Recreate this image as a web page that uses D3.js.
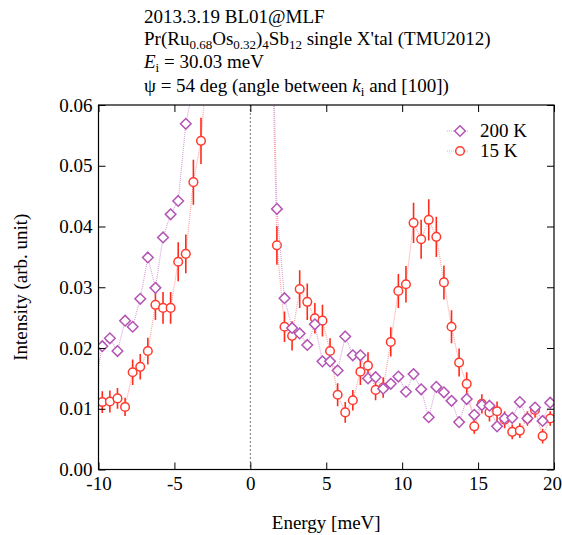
<!DOCTYPE html>
<html>
<head>
<meta charset="utf-8">
<script src="https://cdn.jsdelivr.net/npm/d3@7"></script>
<style>
  html, body { margin: 0; padding: 0; background: #fff; }
  svg { display: block; }
  text { font-family: "Liberation Serif", "Times New Roman", serif; fill: #000; }
</style>
</head>
<body>
<svg id="chart" width="562" height="535"></svg>
<script>
// ---- data ----
const xTicks = [-10, -5, 0, 5, 10, 15, 20];
const yTicks = [0, 0.01, 0.02, 0.03, 0.04, 0.05, 0.06];

const energy200 = [-10.25, -9.75, -9.25, -8.75, -8.25, -7.75, -7.25, -6.75, -6.25, -5.75, -5.25, -4.75, -4.25, -3.75,
  1.25, 1.75, 2.25, 2.75, 3.25, 3.75, 4.25, 4.75, 5.25, 5.75, 6.25, 6.75, 7.25, 7.75, 8.25, 8.75, 9.25, 9.75,
  10.25, 10.75, 11.25, 11.75, 12.25, 12.75, 13.25, 13.75, 14.25, 14.75, 15.25, 15.75, 16.25, 16.75, 17.25,
  17.75, 18.25, 18.75, 19.25, 19.75];
const int200 = [0.0135, 0.0203, 0.0216, 0.0195, 0.0245, 0.0235, 0.0281, 0.0349, 0.0299, 0.0382, 0.0420, 0.0442, 0.0569, 0.0630,
  0.0940, 0.0429, 0.0282, 0.0233, 0.0224, 0.0205, 0.0239, 0.0178, 0.0178, 0.0163, 0.0219, 0.0188, 0.0188, 0.0150,
  0.0152, 0.0133, 0.0141, 0.0153, 0.0128, 0.0157, 0.0132, 0.0086, 0.0136, 0.0127, 0.0113, 0.0078, 0.0116, 0.0090,
  0.0106, 0.0105, 0.0071, 0.0084, 0.0085, 0.0111, 0.0084, 0.0102, 0.0080, 0.0110];

const energy15 = [-9.75, -9.25, -8.75, -8.25, -7.75, -7.25, -6.75, -6.25, -5.75, -5.25, -4.75, -4.25, -3.75, -3.25, -2.75,
  1.25, 1.75, 2.25, 2.75, 3.25, 3.75, 4.25, 4.75, 5.25, 5.75, 6.25, 6.75, 7.25, 7.75, 8.25, 8.75, 9.25, 9.75,
  10.25, 10.75, 11.25, 11.75, 12.25, 12.75, 13.25, 13.75, 14.25, 14.75, 15.25, 15.75, 16.25, 16.75, 17.25,
  17.75, 18.25, 18.75, 19.25, 19.75];
const int15 = [0.0111, 0.0112, 0.0117, 0.0103, 0.0160, 0.0169, 0.0195, 0.0271, 0.0266, 0.0266, 0.0342, 0.0355, 0.0473, 0.0541, 0.0700,
  0.0900, 0.0369, 0.0235, 0.0220, 0.0297, 0.0276, 0.0249, 0.0245, 0.0195, 0.0123, 0.0094, 0.0114, 0.0161, 0.0171,
  0.0131, 0.0135, 0.0210, 0.0294, 0.0305, 0.0406, 0.0379, 0.0411, 0.0383, 0.0308, 0.0235, 0.0176, 0.0141, 0.0071,
  0.0108, 0.0094, 0.0096, 0.0082, 0.0062, 0.0064, 0.0084, 0.0098, 0.0055, 0.0084];
const err15 = [0.0018, 0.0018, 0.0017, 0.0015, 0.0021, 0.0021, 0.0022, 0.0025, 0.0026, 0.0026, 0.0032, 0.0032, 0.0037, 0.0038, 0.0040,
  0.0040, 0.0032, 0.0025, 0.0024, 0.0031, 0.0030, 0.0025, 0.0026, 0.0021, 0.0019, 0.0017, 0.0017, 0.0022, 0.0022,
  0.0017, 0.0017, 0.0024, 0.0028, 0.0030, 0.0033, 0.0032, 0.0034, 0.0033, 0.0028, 0.0027, 0.0023, 0.0019, 0.0012,
  0.0016, 0.0015, 0.0016, 0.0014, 0.0012, 0.0012, 0.0012, 0.0013, 0.0012, 0.0012];

const seriesNames = ["200 K", "15 K"];

// ---- layout ----
const svg = d3.select("#chart");
const L = 98.5, R = 554, T = 105, B = 469.5;
const x = d3.scaleLinear().domain([-10, 20]).range([L, R]);
const y = d3.scaleLinear().domain([0, 0.06]).range([B, T]);

const c200 = "#b454b4", c200line = "#d9a3d9";
const c15 = "#ff3b2f", c15line = "#ffa3a3", cErr = "#ff2a1a";
const FS = 19;

svg.append("defs").append("clipPath").attr("id", "clip")
  .append("rect").attr("x", L).attr("y", T).attr("width", R - L).attr("height", B - T);

// zero line
svg.append("line")
  .attr("x1", x(0)).attr("x2", x(0)).attr("y1", T).attr("y2", B)
  .attr("stroke", "#777").attr("stroke-width", 1).attr("stroke-dasharray", "2,2");

const plot = svg.append("g").attr("clip-path", "url(#clip)");

const d200 = energy200.map((e, i) => ({ e, v: int200[i] }));
const d15 = energy15.map((e, i) => ({ e, v: int15[i], s: err15[i] }));
const inX = d => d.e >= -10 && d.e <= 20;

const line = d3.line().x(d => x(d.e)).y(d => y(d.v));

// 15 K
plot.append("path").datum(d15).attr("d", line)
  .attr("fill", "none").attr("stroke", c15line).attr("stroke-width", 1.2).attr("stroke-dasharray", "1,1");
plot.selectAll(".err").data(d15.filter(inX)).enter().append("line")
  .attr("x1", d => x(d.e)).attr("x2", d => x(d.e))
  .attr("y1", d => y(d.v - d.s)).attr("y2", d => y(d.v + d.s))
  .attr("stroke", cErr).attr("stroke-width", 1.6);
plot.selectAll(".c15").data(d15.filter(inX)).enter().append("circle")
  .attr("cx", d => x(d.e)).attr("cy", d => y(d.v)).attr("r", 4.3)
  .attr("fill", "#fff").attr("stroke", c15).attr("stroke-width", 1.5);

// 200 K
const dia = (cx, cy, h) => `M${cx},${cy - h}L${cx + h},${cy}L${cx},${cy + h}L${cx - h},${cy}Z`;
plot.append("path").datum(d200).attr("d", line)
  .attr("fill", "none").attr("stroke", c200line).attr("stroke-width", 1.2).attr("stroke-dasharray", "1,1");
plot.selectAll(".d200").data(d200.filter(inX)).enter().append("path")
  .attr("d", d => dia(x(d.e), y(d.v), 5.3))
  .attr("fill", "#fff").attr("stroke", c200).attr("stroke-width", 1.5);

// ---- axes ----
const fmtY = d3.format(".2f");
const gx = svg.append("g").attr("transform", `translate(0,${B})`)
  .call(d3.axisBottom(x).tickValues(xTicks).tickSize(-7).tickPadding(7).tickFormat(d => d < 0 ? "-" + Math.abs(d) : d));
gx.selectAll(".tick text").filter(d => d === 20).attr("dx", -2);
const gxt = svg.append("g").attr("transform", `translate(0,${T})`)
  .call(d3.axisTop(x).tickValues(xTicks).tickSize(-7).tickFormat(""));
const gy = svg.append("g").attr("transform", `translate(${L},0)`)
  .call(d3.axisLeft(y).tickValues(yTicks).tickSize(-7).tickPadding(6).tickFormat(fmtY));
const gyr = svg.append("g").attr("transform", `translate(${R},0)`)
  .call(d3.axisRight(y).tickValues(yTicks).tickSize(-7).tickFormat(""));

[gx, gxt, gy, gyr].forEach(g => {
  g.select(".domain").remove();
  g.selectAll(".tick line").attr("stroke", "#000").attr("stroke-width", 1);
  g.selectAll("text").attr("font-size", FS).attr("font-family", "Liberation Serif").attr("fill", "#000");
});

svg.append("rect").attr("x", L).attr("y", T).attr("width", R - L).attr("height", B - T)
  .attr("fill", "none").attr("stroke", "#000").attr("stroke-width", 1.2);

// axis titles
svg.append("text").attr("x", (L + R) / 2).attr("y", 529).attr("text-anchor", "middle")
  .attr("font-size", FS).text("Energy [meV]");
svg.append("text").attr("transform", `translate(27,${(T + B) / 2}) rotate(-90)`).attr("text-anchor", "middle")
  .attr("font-size", FS).text("Intensity (arb. unit)");

// ---- title block ----
const tx = 144, SUB = 13;
const t1 = svg.append("text").attr("x", tx).attr("y", 23).attr("font-size", FS);
t1.text("2013.3.19 BL01@MLF");

const t2 = svg.append("text").attr("x", tx).attr("y", 45).attr("font-size", FS);
t2.append("tspan").text("Pr(Ru");
t2.append("tspan").attr("font-size", SUB).attr("dy", 4).text("0.68");
t2.append("tspan").attr("dy", -4).text("Os");
t2.append("tspan").attr("font-size", SUB).attr("dy", 4).text("0.32");
t2.append("tspan").attr("dy", -4).text(")");
t2.append("tspan").attr("font-size", SUB).attr("dy", 4).text("4");
t2.append("tspan").attr("dy", -4).text("Sb");
t2.append("tspan").attr("font-size", SUB).attr("dy", 4).text("12");
t2.append("tspan").attr("dy", -4).text(" single X'tal (TMU2012)");

const t3 = svg.append("text").attr("x", tx).attr("y", 68).attr("font-size", FS);
t3.append("tspan").attr("font-style", "italic").text("E");
t3.append("tspan").attr("font-size", SUB).attr("dy", 4).text("i");
t3.append("tspan").attr("dy", -4).text(" = 30.03 meV");

const t4 = svg.append("text").attr("x", tx).attr("y", 92).attr("font-size", FS);
t4.append("tspan").text("ψ = 54 deg (angle between ");
t4.append("tspan").attr("font-style", "italic").text("k");
t4.append("tspan").attr("font-size", SUB).attr("dy", 4).text("i");
t4.append("tspan").attr("dy", -4).text(" and [100])");

// ---- legend ----
const lg = svg.append("g");
const ly = [131, 151];
lg.append("line").attr("x1", 447).attr("x2", 469).attr("y1", ly[0]).attr("y2", ly[0])
  .attr("stroke", c200line).attr("stroke-width", 1.2).attr("stroke-dasharray", "1,1");
lg.append("path").attr("d", dia(460, ly[0], 5.3)).attr("fill", "#fff").attr("stroke", c200).attr("stroke-width", 1.5);
lg.append("text").attr("x", 480).attr("y", ly[0] + 6).attr("font-size", FS).text(seriesNames[0]);
lg.append("line").attr("x1", 447).attr("x2", 469).attr("y1", ly[1]).attr("y2", ly[1])
  .attr("stroke", c15line).attr("stroke-width", 1.2).attr("stroke-dasharray", "1,1");
lg.append("circle").attr("cx", 460).attr("cy", ly[1]).attr("r", 4.3).attr("fill", "#fff").attr("stroke", c15).attr("stroke-width", 1.5);
lg.append("text").attr("x", 480).attr("y", ly[1] + 6).attr("font-size", FS).text(seriesNames[1]);
</script>
</body>
</html>
